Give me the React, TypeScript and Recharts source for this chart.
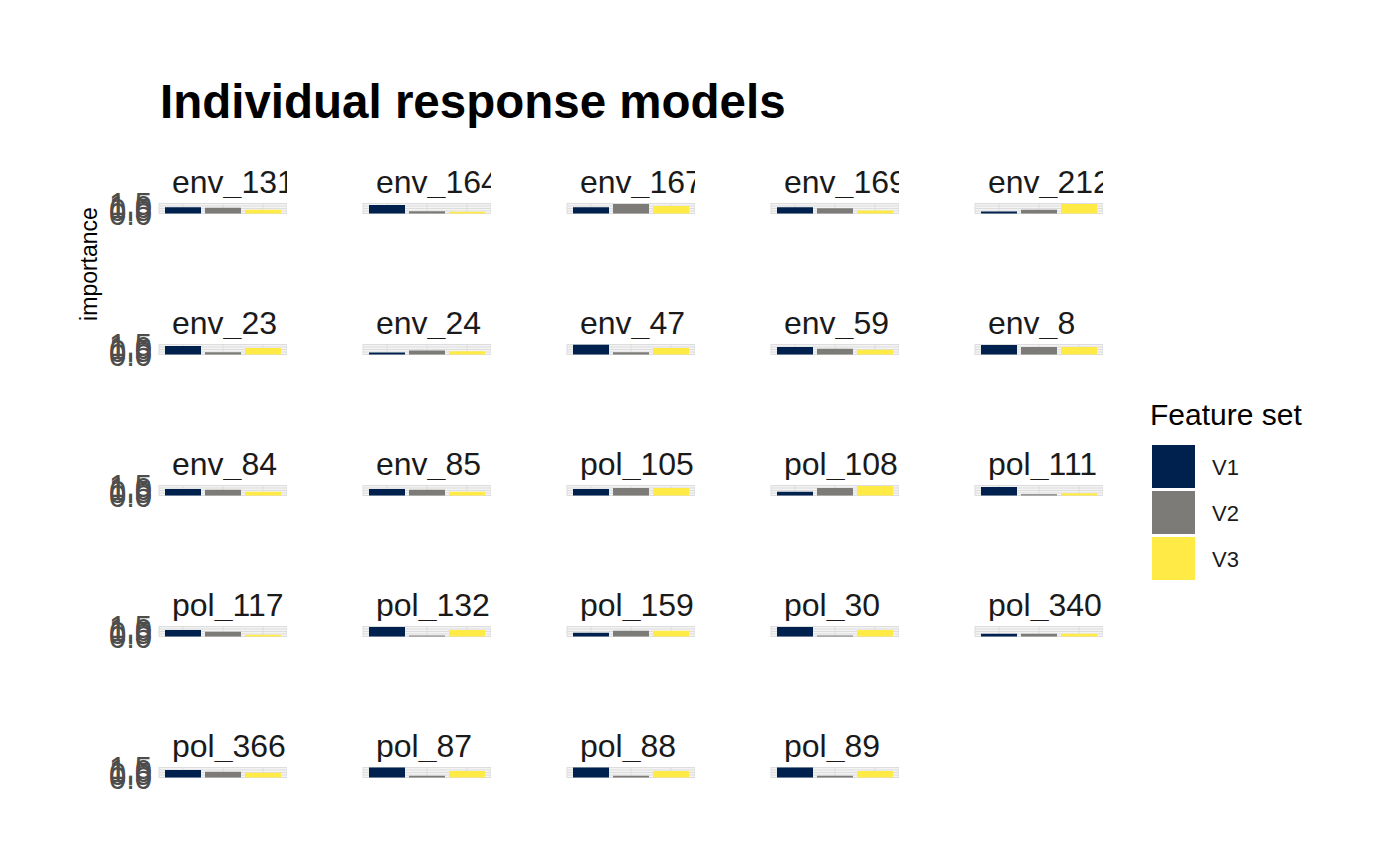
import { BarChart, Bar, XAxis, YAxis, CartesianGrid, Cell } from 'recharts'

const facets = [
    'env_131', 'env_164', 'env_167', 'env_169', 'env_212',
    'env_23', 'env_24', 'env_47', 'env_59', 'env_8',
    'env_84', 'env_85', 'pol_105', 'pol_108', 'pol_111',
    'pol_117', 'pol_132', 'pol_159', 'pol_30', 'pol_340',
    'pol_366', 'pol_87', 'pol_88', 'pol_89',
]

const v1 = [0.94, 1.27, 0.94, 0.95, 0.3, 1.27, 0.3, 1.48, 1.13, 1.41, 0.99, 0.99, 0.99, 0.57, 1.27, 0.99, 1.41, 0.57, 1.41, 0.42, 1.13, 1.5, 1.5, 1.5]
const v2 = [0.85, 0.33, 1.41, 0.8, 0.57, 0.33, 0.61, 0.33, 0.85, 1.13, 0.85, 0.85, 1.13, 1.13, 0.19, 0.71, 0.14, 0.85, 0.14, 0.42, 0.85, 0.28, 0.28, 0.28]
const v3 = [0.57, 0.28, 1.13, 0.45, 1.41, 0.99, 0.47, 0.99, 0.71, 1.13, 0.57, 0.57, 1.13, 1.41, 0.33, 0.28, 0.99, 0.85, 0.99, 0.42, 0.71, 0.99, 0.99, 0.99]

const seriesNames = ['V1', 'V2', 'V3']
const seriesValues = [v1, v2, v3]
const seriesColors = ['#00204D', '#7C7B78', '#FFEA46']

const yTicks = [0, 0.5, 1, 1.5]
const yGrid = [0, 0.25, 0.5, 0.75, 1, 1.25, 1.5]
const yTickLabels = ['0.0', '0.5', '1.0', '1.5']

const FONT = '"Liberation Sans", Arial, sans-serif'
const COL_LEFT = [159, 363, 567, 771, 975]
const ROW_TOP = [203, 344, 485, 626, 767]
const PANEL_W = 128
const PANEL_H = 11
const AXIS_W = 60
const M = 16

function YTick(props: any) {
    const { y, payload, index, show } = props
    if (!show) return <g />
    return (
        <text
            x={AXIS_W - 7}
            y={y}
            dy="0.36em"
            textAnchor="end"
            fill="#4D4D4D"
            fontSize={31}
            fontFamily={FONT}
        >
            {yTickLabels[index] ?? payload.value}
        </text>
    )
}

function Panel({ idx }: { idx: number }) {
    const col = idx % 5
    const row = Math.floor(idx / 5)
    const left = COL_LEFT[col]
    const top = ROW_TOP[row]
    const data = seriesNames.map((name, i) => ({ name, value: seriesValues[i][idx] }))

    return (
        <>
            <div
                style={{
                    position: 'absolute',
                    left: left + 13,
                    top: top - 37,
                    width: PANEL_W - 13,
                    overflow: 'hidden',
                    whiteSpace: 'nowrap',
                    fontSize: 32,
                    lineHeight: '32px',
                    color: '#1A1A1A',
                    fontFamily: FONT,
                }}
            >
                {facets[idx]}
            </div>
            <div style={{ position: 'absolute', left: left - AXIS_W, top: top - M }}>
                <BarChart
                    width={AXIS_W + PANEL_W}
                    height={PANEL_H + 2 * M}
                    data={data}
                    margin={{ top: M, bottom: M, left: 0, right: 0 }}
                    barSize={36}
                    style={{ overflow: 'visible' }}
                >
                    <CartesianGrid stroke="#DDDDDD" strokeWidth={1} horizontalValues={yGrid} />
                    <XAxis dataKey="name" hide padding={{ left: 4, right: 4 }} />
                    <YAxis
                        type="number"
                        domain={[-0.075, 1.575]}
                        ticks={yTicks}
                        interval={0}
                        width={AXIS_W}
                        axisLine={false}
                        tickLine={false}
                        tick={<YTick show={col === 0} />}
                        allowDataOverflow
                    />
                    <Bar dataKey="value" isAnimationActive={false}>
                        {data.map((d, i) => (
                            <Cell key={d.name} fill={seriesColors[i]} />
                        ))}
                    </Bar>
                </BarChart>
            </div>
        </>
    )
}

export default function App() {
    return (
        <div
            style={{
                position: 'absolute',
                left: 0,
                top: 0,
                width: 1400,
                height: 865,
                background: '#FFFFFF',
                overflow: 'hidden',
                fontFamily: FONT,
            }}
        >
            <svg width={1400} height={865} style={{ position: 'absolute', left: 0, top: 0 }}>
                <text x={160} y={118} fontSize={47.5} fontWeight="bold" fill="#000000" fontFamily={FONT}>
                    Individual response models
                </text>
                <text
                    x={97}
                    y={264}
                    transform="rotate(-90 97 264)"
                    textAnchor="middle"
                    fontSize={23}
                    fill="#000000"
                    fontFamily={FONT}
                >
                    importance
                </text>
                <text x={1150} y={425} fontSize={30} fill="#000000" fontFamily={FONT}>
                    Feature set
                </text>
                {seriesNames.map((name, i) => (
                    <g key={name}>
                        <rect x={1152} y={445 + 46 * i} width={43} height={43} fill={seriesColors[i]} />
                        <text
                            x={1212}
                            y={467 + 46 * i}
                            dy="0.36em"
                            fontSize={22}
                            fill="#1A1A1A"
                            fontFamily={FONT}
                        >
                            {name}
                        </text>
                    </g>
                ))}
            </svg>
            {facets.map((f, i) => (
                <Panel key={f} idx={i} />
            ))}
        </div>
    )
}
